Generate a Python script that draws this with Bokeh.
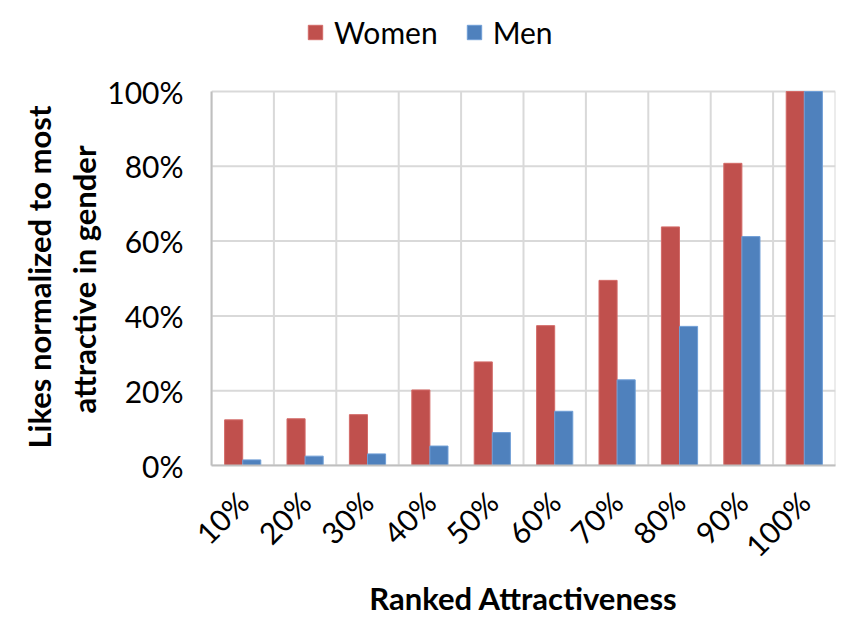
import math
from bokeh.plotting import figure
from bokeh.models import (ColumnDataSource, FactorRange, Range1d, FixedTicker,
                          NumeralTickFormatter, Legend, LegendItem, LinearAxis, Title)
from bokeh.transform import dodge
from bokeh.embed import file_html
from bokeh.resources import INLINE

categories = ["10%", "20%", "30%", "40%", "50%", "60%", "70%", "80%", "90%", "100%"]
women = [0.122, 0.125, 0.136, 0.202, 0.277, 0.374, 0.495, 0.638, 0.808, 1.0]
men = [0.015, 0.025, 0.031, 0.052, 0.088, 0.145, 0.229, 0.372, 0.612, 1.0]
y_ticks = [0, 0.2, 0.4, 0.6, 0.8, 1.0]
boundaries = list(range(len(categories) + 1))
y_title_lines = ["attractive in gender", "Likes normalized to most"]

FONT = "Lato"
RED = "#C0504D"
BLUE = "#4F81BD"
GRID = "#D9D9D9"

src = ColumnDataSource(dict(cat=categories, women=women, men=men))

Y_TOP = 1.238  # extra room above 100% for the legend
p = figure(x_range=FactorRange(*categories), y_range=Range1d(0, Y_TOP),
           width=845, height=626, output_backend="svg", toolbar_location=None,
           min_border_left=211, min_border_right=10, min_border_top=2,
           min_border_bottom=161, outline_line_color=None, y_axis_location=None)

p.xgrid.visible = False
p.ygrid.visible = False

# vertical gridlines at category boundaries and horizontal gridlines at y ticks
gsrc = ColumnDataSource(dict(x=boundaries, y0=[0] * len(boundaries),
                             y1=[1.0] * len(boundaries)))
p.segment(x0="x", x1="x", y0="y0", y1="y1", source=gsrc,
          line_color=GRID, line_width=2)
hsrc = ColumnDataSource(dict(y=y_ticks, x0=[0] * len(y_ticks),
                             x1=[len(categories)] * len(y_ticks)))
p.segment(x0="x0", x1="x1", y0="y", y1="y", source=hsrc,
          line_color=GRID, line_width=2)

bw = 0.29
r_w = p.vbar(x=dodge("cat", -bw / 2, range=p.x_range), top="women", width=bw,
             source=src, fill_color=RED, line_color="#D36B68", line_width=1)
r_m = p.vbar(x=dodge("cat", bw / 2, range=p.x_range), top="men", width=bw,
             source=src, fill_color=BLUE, line_color="#6F9ED6", line_width=1)

# y axis with tick labels
yax = LinearAxis(ticker=FixedTicker(ticks=y_ticks), bounds=(0, 1),
                 formatter=NumeralTickFormatter(format="0%"))
yax.major_label_text_font = FONT
yax.major_label_text_font_size = "30px"
yax.major_label_text_color = "#000000"
yax.major_label_standoff = 28
yax.major_tick_out = 0
yax.major_tick_in = 0
yax.minor_tick_out = 0
yax.minor_tick_in = 0
yax.major_tick_line_color = None
yax.minor_tick_line_color = None
yax.axis_line_color = "#BFBFBF"
yax.axis_line_width = 2
p.add_layout(yax, "left")

# two-line y-axis title, each line centred on the 0-100% span
for line, off, so in zip(y_title_lines, [52, 17], [4, 6]):
    t = Title(text=line, align="left", offset=off, text_font=FONT,
              text_font_size="31px", text_font_style="bold",
              text_color="#000000", standoff=so)
    p.add_layout(t, "left")

# x axis
p.xaxis.major_label_orientation = math.pi / 4
p.xaxis.major_label_text_font = FONT
p.xaxis.major_label_text_font_size = "30px"
p.xaxis.major_label_text_color = "#000000"
p.xaxis.major_label_standoff = 31
p.xaxis.major_tick_out = 0
p.xaxis.major_tick_in = 0
p.xaxis.major_tick_line_color = None
p.xaxis.minor_tick_line_color = None
p.xaxis.axis_line_color = "#BFBFBF"
p.xaxis.axis_line_width = 2
p.xaxis.axis_label = "Ranked Attractiveness"
p.xaxis.axis_label_text_font = FONT
p.xaxis.axis_label_text_font_style = "bold"
p.xaxis.axis_label_text_font_size = "31px"
p.xaxis.axis_label_text_color = "#000000"
p.xaxis.axis_label_standoff = 0

legend = Legend(items=[LegendItem(label="Women", renderers=[r_w]),
                       LegendItem(label="Men", renderers=[r_m])],
                orientation="horizontal", location=(95, 415),
                label_text_font=FONT, label_text_font_size="30px",
                label_text_color="#000000", glyph_width=18, glyph_height=18,
                spacing=27, label_standoff=10, border_line_color=None,
                background_fill_alpha=0, padding=0, margin=0)
p.add_layout(legend, "center")

open("out.html", "w").write(file_html(p, INLINE))
